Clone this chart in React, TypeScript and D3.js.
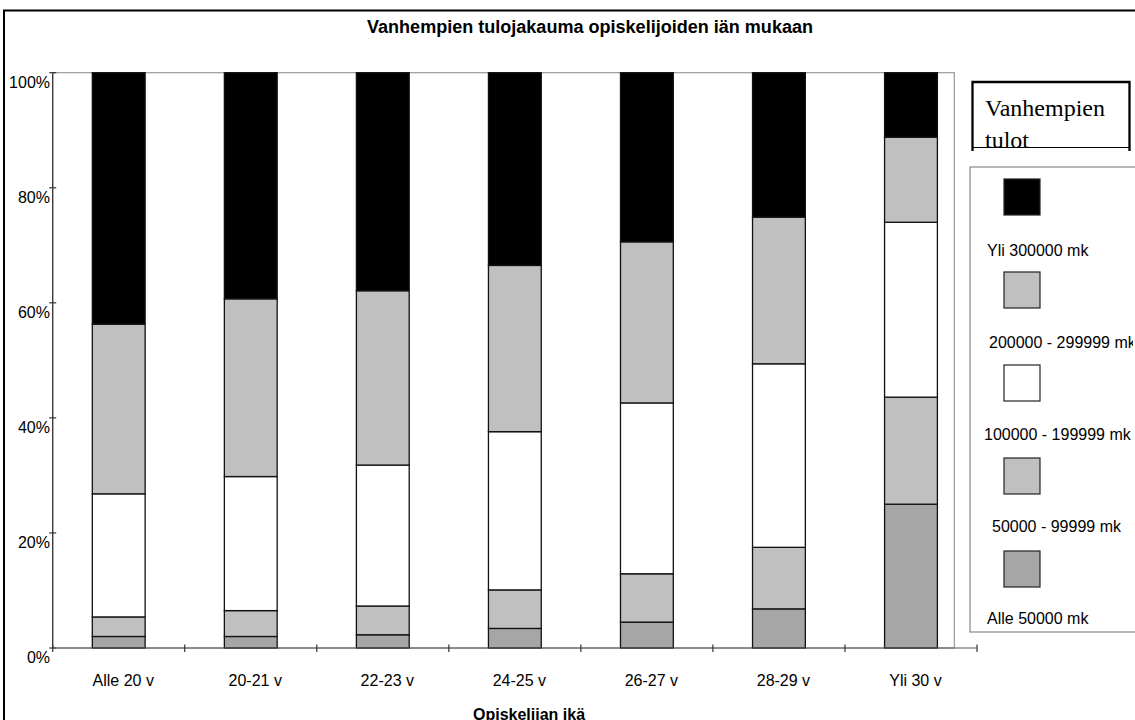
import React from "react";
import * as d3 from "d3";

const categories = ["Alle 20 v", "20-21 v", "22-23 v", "24-25 v", "26-27 v", "28-29 v", "Yli 30 v"];
const alle50 = [2.0, 2.0, 2.3, 3.4, 4.5, 6.8, 25.0];
const s50to99 = [3.4, 4.5, 5.0, 6.7, 8.4, 10.7, 18.6];
const s100to199 = [21.4, 23.3, 24.5, 27.5, 29.7, 31.9, 30.4];
const s200to299 = [29.5, 30.9, 30.3, 28.9, 28.0, 25.5, 14.8];
const yli300 = [43.7, 39.3, 37.9, 33.5, 29.4, 25.1, 11.2];

const seriesKeys = ["alle50", "s50to99", "s100to199", "s200to299", "yli300"];
const seriesLabels = ["Alle 50000 mk", "50000 - 99999 mk", "100000 - 199999 mk", "200000 - 299999 mk", "Yli 300000 mk"];
const seriesColors = ["#A6A6A6", "#C0C0C0", "#FFFFFF", "#C0C0C0", "#000000"];
const yTicks = [0, 20, 40, 60, 80, 100];

const title = "Vanhempien tulojakauma opiskelijoiden iän mukaan";
const xTitle = "Opiskelijan ikä";
const legendTitle = ["Vanhempien", "tulot"];

export default function App() {
  const W = 1135, H = 720;
  const x0 = 52.7, x1 = 977;
  const yBottom = 648, yTop = 72.7;
  const plotRight = 954.3;

  const table = categories.map((c, i) => ({
    cat: c,
    alle50: alle50[i],
    s50to99: s50to99[i],
    s100to199: s100to199[i],
    s200to299: s200to299[i],
    yli300: yli300[i],
  }));
  const stacked = d3.stack<any>().keys(seriesKeys)(table);

  const x = d3.scaleBand<string>().domain(categories).range([x0, x1]).paddingInner(0.6).paddingOuter(0.3);
  const y = d3.scaleLinear().domain([0, 100]).range([yBottom, yTop]);
  const step = x.step();
  const boundaries = d3.range(categories.length + 1).map((i) => x0 + i * step);

  const font = "'Liberation Sans', Arial, sans-serif";
  const serif = "'Liberation Serif', 'Times New Roman', serif";

  // legend order top -> bottom (reverse of stack)
  const legendOrder = [4, 3, 2, 1, 0];
  const legendTextX = [987, 989, 984, 992, 987];

  return (
    <svg width={W} height={H} style={{ position: "absolute", left: 0, top: 0, display: "block", background: "#fff" }}>
      <defs>
        <clipPath id="ltclip"><rect x={972} y={80} width={160} height={67.5} /></clipPath>
        <clipPath id="legclip"><rect x={970} y={150} width={163} height={490} /></clipPath>
      </defs>
      <rect x={0} y={0} width={W} height={H} fill="#fff" />
      {/* outer frame */}
      <rect x={4} y={10.5} width={W + 20} height={H + 20} fill="none" stroke="#000" strokeWidth={2} />

      <text x={590} y={33} textAnchor="middle" fontFamily={font} fontWeight="bold" fontSize={18} textLength={446} lengthAdjust="spacingAndGlyphs">
        {title}
      </text>

      {/* plot area border */}
      <rect x={x0} y={yTop} width={plotRight - x0} height={yBottom - yTop} fill="none" stroke="#999" strokeWidth={1.2} />

      {/* bars */}
      {stacked.map((s, si) => (
        <g key={seriesKeys[si]}>
          {s.map((d, i) => (
            <rect
              key={i}
              x={x(categories[i])}
              y={y(d[1])}
              width={x.bandwidth()}
              height={y(d[0]) - y(d[1])}
              fill={seriesColors[si]}
              stroke="#111"
              strokeWidth={1.3}
            />
          ))}
        </g>
      ))}

      {/* y axis */}
      <line x1={x0} x2={x0} y1={yTop} y2={yBottom} stroke="#333" strokeWidth={1.2} />
      {yTicks.map((t) => (
        <g key={t}>
          <line x1={x0 - 3.5} x2={x0 + 3.5} y1={y(t)} y2={y(t)} stroke="#333" strokeWidth={1.2} />
          <text x={50} y={y(t) + 15} textAnchor="end" fontFamily={font} fontSize={16}>{t + "%"}</text>
        </g>
      ))}

      {/* x axis */}
      <line x1={x0} x2={x1} y1={yBottom} y2={yBottom} stroke="#555" strokeWidth={1.2} />
      {boundaries.map((bx, i) => (
        <line key={i} x1={bx} x2={bx} y1={yBottom - 3.5} y2={yBottom + 4} stroke="#333" strokeWidth={1.2} />
      ))}
      {categories.map((c) => (
        <text key={c} x={(x(c) as number) + x.bandwidth() / 2 + 4.5} y={685.7} textAnchor="middle" fontFamily={font} fontSize={16}>{c}</text>
      ))}
      <text x={529} y={720} textAnchor="middle" fontFamily={font} fontWeight="bold" fontSize={16}>{xTitle}</text>

      {/* legend title box */}
      <g clipPath="url(#ltclip)">
        <text x={985} y={116} fontFamily={serif} fontSize={24}>{legendTitle[0]}</text>
        <text x={985} y={148} fontFamily={serif} fontSize={24}>{legendTitle[1]}</text>
      </g>
      <path d="M972.5,151 L972.5,82 L1129.5,82 L1129.5,151" fill="none" stroke="#000" strokeWidth={2.3} />
      <line x1={972} x2={1130} y1={147.5} y2={147.5} stroke="#000" strokeWidth={1} />

      {/* legend box */}
      <rect x={970} y={167} width={200} height={465} fill="#fff" stroke="#888" strokeWidth={1.2} />
      <g clipPath="url(#legclip)">
        {legendOrder.map((si, k) => (
          <g key={si}>
            <rect x={1004} y={179 + k * 93} width={36} height={36} fill={seriesColors[si]} stroke="#222" strokeWidth={1.2} />
            <text x={legendTextX[k]} y={256 + k * 92} fontFamily={font} fontSize={16}>{seriesLabels[si]}</text>
          </g>
        ))}
      </g>
    </svg>
  );
}
